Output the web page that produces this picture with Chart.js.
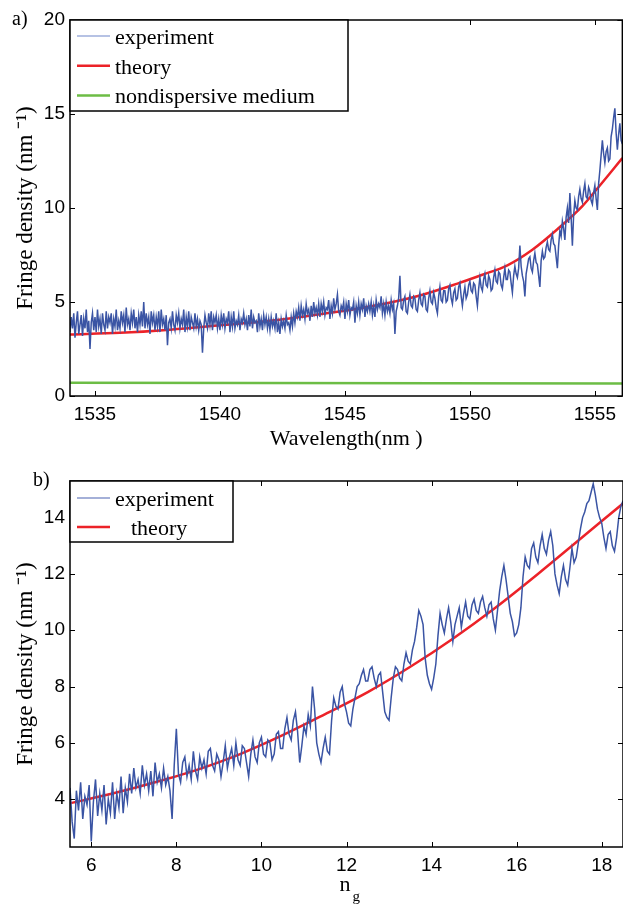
<!DOCTYPE html>
<html>
<head>
<meta charset="utf-8">
<script src="https://cdn.jsdelivr.net/npm/chart.js@4.4.0/dist/chart.umd.min.js"></script>
<style>
  body { margin: 0; background: #fff; width: 623px; height: 905px; overflow: hidden; position: relative; }
  canvas { position: absolute; left: 0; }
  .tag { position: absolute; font-family: 'Liberation Serif', serif; font-size: 20px; line-height: 23px; z-index: 2; }
</style>
</head>
<body>
<canvas id="chartA" width="623" height="455" style="top:0"></canvas>
<canvas id="chartB" width="623" height="450" style="top:455px"></canvas>
<div class="tag" style="left:12px;top:7px">a)</div>
<div class="tag" style="left:33px;top:468px">b)</div>
<script>
// panel a: fringe density vs wavelength, one row per nm, sampled every 0.05 nm from 1534 nm
const waveStart = 1534;
const waveStep = 0.05;
const expA = [
    3.4, 4.2, 3.6, 4.4, 3.1, 3.9, 4.5, 3.3, 3.8, 4.3, 3.2, 4.1, 3.6, 4.6, 3.4, 4.0, 2.5, 3.9, 4.4, 3.5,
    4.2, 3.4, 4.6, 3.7, 4.1, 3.3, 4.4, 3.8, 3.5, 4.5, 3.6, 4.2, 3.9, 4.4, 3.3, 4.1, 3.7, 4.6, 3.5, 4.0,
    3.6, 4.5, 3.9, 4.3, 3.4, 4.7, 3.8, 4.1, 3.5, 4.4, 3.9, 4.6, 3.6, 4.2, 3.4, 4.3, 3.8, 4.5, 3.7, 5.0,
    3.6, 4.4, 3.8, 4.2, 3.3, 4.5, 3.9, 4.3, 3.5, 4.2, 3.7, 4.5, 3.4, 4.6, 3.8, 4.1, 3.5, 4.3, 2.7, 3.9,
    4.1, 3.6, 4.5, 3.8, 3.5, 4.3, 3.9, 4.4, 3.6, 4.1, 3.8, 4.6, 3.4, 4.2, 3.7, 4.5, 3.5, 4.2, 3.9, 3.6,
    4.4, 3.7, 4.1, 3.5, 4.0, 3.8, 2.3, 3.6, 4.3, 3.9, 3.6, 4.4, 3.8, 4.5, 3.5, 4.2, 3.9, 4.3, 3.6, 4.1,
    3.5, 4.3, 3.8, 4.4, 3.6, 4.1, 3.9, 4.5, 3.4, 4.2, 3.7, 4.5, 3.6, 4.0, 3.8, 4.3, 3.5, 4.1, 3.9, 4.4,
    3.8, 4.1, 3.5, 4.3, 3.7, 4.6, 3.6, 4.2, 3.9, 4.0, 3.4, 4.4, 3.7, 4.1, 3.5, 4.3, 3.8, 4.2, 3.6, 4.1,
    3.5, 4.2, 3.7, 4.0, 3.6, 4.4, 3.4, 3.9, 3.3, 4.1, 3.7, 4.0, 3.6, 4.3, 3.8, 3.9, 3.5, 4.2, 3.7, 4.4,
    3.9, 4.5, 4.2, 4.7, 4.0, 4.8, 4.3, 4.6, 4.1, 4.9, 4.4, 4.6, 4.0, 4.8, 4.2, 5.0, 4.4, 4.7, 4.3, 4.9,
    4.2, 4.9, 4.5, 5.0, 4.3, 4.7, 4.6, 5.1, 4.1, 4.8, 4.4, 5.2, 4.6, 4.9, 5.4, 4.5, 4.3, 4.8, 4.6, 5.0,
    4.1, 4.9, 4.5, 5.1, 4.3, 4.7, 4.6, 5.0, 3.9, 4.8, 4.4, 5.0, 4.3, 4.9, 4.6, 5.2, 4.2, 4.8, 4.5, 4.9,
    4.5, 5.0, 4.3, 4.8, 4.2, 5.1, 4.6, 4.9, 4.7, 5.3, 4.4, 4.9, 4.3, 5.0, 4.5, 4.8, 4.4, 5.1, 4.6, 4.9,
    3.3, 4.5, 4.8, 5.2, 6.4, 4.7, 4.6, 5.1, 5.3, 4.5, 4.4, 5.0, 5.4, 4.8, 4.7, 5.3, 5.2, 4.6, 4.5, 5.1,
    5.5, 4.9, 4.8, 5.4, 5.3, 4.6, 4.5, 5.2, 5.6, 5.0, 4.9, 5.5, 5.2, 4.7, 4.4, 5.3, 5.8, 5.1, 5.0, 5.6,
    5.6, 5.0, 5.1, 5.7, 5.9, 5.2, 4.9, 5.5, 5.7, 5.1, 5.2, 5.8, 6.0, 5.3, 4.8, 5.4, 5.8, 5.2, 5.4, 5.9,
    6.1, 5.6, 5.5, 6.0, 5.9, 5.3, 4.8, 5.7, 6.3, 5.8, 5.6, 6.2, 6.5, 5.9, 5.8, 6.4, 6.2, 5.6, 5.7, 6.3,
    6.7, 6.1, 6.0, 6.6, 6.5, 5.9, 5.7, 6.3, 6.8, 6.2, 6.2, 6.7, 6.6, 6.0, 5.5, 6.4, 6.9, 6.5, 6.3, 6.8,
    8.0, 6.9, 6.4, 6.1, 5.3, 6.5, 6.9, 7.3, 7.4, 6.8, 6.6, 7.2, 7.6, 7.1, 7.0, 6.4, 5.8, 7.2, 7.7, 7.3,
    7.4, 7.9, 8.2, 7.8, 7.7, 8.3, 8.6, 8.1, 8.0, 7.4, 6.8, 8.0, 8.8, 8.5, 9.3, 8.9, 8.3, 9.5, 10.0, 9.2,
    10.8, 9.5, 8.0, 9.6, 10.4, 10.0, 9.9, 10.6, 11.0, 10.5, 10.3, 10.9, 11.3, 10.6, 10.5, 11.1, 10.9, 10.4, 10.2, 10.8,
    11.2, 10.5, 9.9, 11.3, 12.0, 12.8, 13.6, 12.9, 12.4, 13.0, 13.2, 12.5, 12.6, 13.8, 14.2, 14.8, 15.3, 14.0, 13.1, 13.9,
    14.5, 13.6, 13.4
];
const theoryAx = [1534, 1536, 1538, 1540, 1542, 1544, 1546, 1548, 1549.5, 1550.5, 1551.5, 1552.5, 1553.5, 1554.5, 1555.2, 1556.1];
const theoryAy = [3.27, 3.36, 3.53, 3.76, 4.0, 4.35, 4.76, 5.35, 5.98, 6.45, 6.95, 7.78, 8.87, 10.1, 11.2, 12.66];
const mediumAx = [1534, 1556.1];
const mediumAy = [0.7, 0.67];
const waveTicks = [1535, 1540, 1545, 1550, 1555];
const densityTicksA = [0, 5, 10, 15, 20];

// panel b: fringe density vs group index, one row per unit, sampled every 0.05 from 5.5
const ngStart = 5.5;
const ngStep = 0.05;
const expB = [
    4.4, 3.2, 2.6, 4.3, 3.6, 4.6, 3.3, 4.1, 3.8, 4.5, 2.5, 3.9, 4.7, 3.4, 4.2, 3.6, 4.5, 3.1, 4.0, 3.5,
    4.6, 3.3, 4.2, 3.7, 4.8, 3.5, 4.4, 3.9, 4.9, 4.2, 5.1, 4.4, 4.7, 4.2, 5.2, 4.5, 4.9, 4.3, 5.0, 4.1,
    5.3, 4.6, 4.9, 4.4, 5.1, 4.5, 4.8, 4.3, 3.3, 5.2, 6.5, 4.9, 4.6, 5.3, 5.5, 4.8, 5.2, 4.7, 5.7, 5.0,
    4.7, 5.5, 5.1, 5.4, 4.9, 5.7, 5.8, 5.2, 5.0, 5.6, 5.4, 4.8, 5.3, 5.9, 5.1, 5.5, 5.8, 5.2, 6.0, 5.4,
    5.2, 5.9, 5.8, 5.3, 4.8, 5.6, 6.1, 5.5, 5.3, 6.0, 6.2, 5.6, 5.5, 6.1, 6.0, 5.4, 5.6, 6.3, 6.4, 5.8,
    5.8, 6.5, 6.9, 6.3, 6.1, 6.8, 7.1, 6.4, 5.3, 5.9, 6.6, 6.3, 7.0, 6.6, 8.0, 7.2, 6.0, 5.6, 5.3, 5.8,
    6.2, 5.7, 5.6, 6.8, 7.6, 7.3, 7.2, 7.8, 8.0, 7.4, 7.1, 6.7, 6.6, 7.2, 7.6, 8.0, 8.1, 8.4, 8.6, 8.2,
    8.2, 8.6, 8.7, 8.3, 8.0, 8.4, 8.5, 7.8, 7.1, 6.9, 6.8, 7.6, 8.3, 8.7, 8.6, 8.3, 8.2, 8.8, 9.2, 8.9,
    8.8, 9.3, 9.6, 10.1, 10.7, 10.5, 10.2, 9.0, 8.4, 8.1, 7.9, 8.3, 8.8, 9.8, 10.6, 10.2, 9.9, 10.4, 10.8, 10.3,
    9.6, 10.2, 10.5, 10.8, 10.1, 10.6, 11.0, 10.5, 10.4, 10.9, 11.1, 10.7, 10.6, 11.0, 11.2, 10.8, 10.5, 10.9, 11.0, 10.4,
    10.0, 10.7, 11.4, 11.9, 12.3, 11.8, 11.2, 10.6, 10.3, 9.8, 9.9, 10.2, 10.8, 11.9, 12.6, 12.3, 12.2, 12.9, 13.1, 12.6,
    12.4, 13.0, 13.4, 12.9, 12.7, 13.2, 13.5, 13.0, 12.0, 11.6, 11.3, 11.9, 12.3, 11.8, 11.6, 12.2, 12.9, 12.4, 12.6, 13.1,
    13.6, 14.0, 14.2, 14.5, 14.6, 14.9, 15.2, 14.8, 14.3, 14.0, 13.8, 13.3, 12.9, 13.4, 13.5, 13.0, 12.8, 13.3, 14.0, 14.4,
    14.6
];
const theoryBx = [5.5, 6.5, 7.5, 8.5, 9.5, 10.5, 11.5, 12.5, 13.5, 14.5, 15.5, 16.5, 17.5, 18.5];
const theoryBy = [3.85, 4.2, 4.6, 5.05, 5.6, 6.27, 7.02, 7.8, 8.7, 9.7, 10.8, 12.0, 13.25, 14.5];
const ngTicks = [6, 8, 10, 12, 14, 16, 18];
const densityTicksB = [4, 6, 8, 10, 12, 14];

const blue = '#3a54a4';
const red = '#ec2228';
const green = '#6cbd45';

function sampled(start, step, values) {
    return values.map((v, i) => ({ x: +(start + i * step).toFixed(3), y: v }));
}
function paired(xs, ys) {
    return xs.map((x, i) => ({ x: x, y: ys[i] }));
}
function fixedTicks(list) {
    return function (scale) { scale.ticks = list.map(v => ({ value: v })); };
}

Chart.defaults.font.family = "'Liberation Sans', Arial, sans-serif";
Chart.defaults.color = '#000';

// MATLAB style box with inward tick marks on all four sides
const matlabFrame = {
    id: 'matlabFrame',
    afterDatasetsDraw(chart) {
        const { ctx, chartArea: a, scales } = chart;
        ctx.save();
        ctx.strokeStyle = '#000';
        ctx.lineWidth = 1.5;
        ctx.strokeRect(a.left, a.top, a.right - a.left, a.bottom - a.top);
        ctx.lineWidth = 1;
        ctx.beginPath();
        scales.x.ticks.forEach(t => {
            const px = Math.round(scales.x.getPixelForValue(t.value)) + 0.5;
            ctx.moveTo(px, a.bottom); ctx.lineTo(px, a.bottom - 5);
            ctx.moveTo(px, a.top); ctx.lineTo(px, a.top + 5);
        });
        scales.y.ticks.forEach(t => {
            const py = Math.round(scales.y.getPixelForValue(t.value)) + 0.5;
            ctx.moveTo(a.left, py); ctx.lineTo(a.left + 5, py);
            ctx.moveTo(a.right, py); ctx.lineTo(a.right - 5, py);
        });
        ctx.stroke();
        ctx.restore();
    }
};

// boxed legend in the upper left corner
const boxLegend = {
    id: 'boxLegend',
    afterDraw(chart, args, opts) {
        const ctx = chart.ctx;
        ctx.save();
        ctx.fillStyle = '#fff';
        ctx.fillRect(opts.left, opts.top, opts.width, opts.height);
        ctx.strokeStyle = '#000';
        ctx.lineWidth = 1.5;
        ctx.strokeRect(opts.left, opts.top, opts.width, opts.height);
        ctx.font = "22px 'Liberation Serif', serif";
        ctx.textBaseline = 'middle';
        ctx.fillStyle = '#000';
        chart.data.datasets.forEach((ds, i) => {
            const y = opts.rowTop + i * opts.rowGap;
            ctx.strokeStyle = opts.sampleColors[i];
            ctx.lineWidth = opts.sampleWidths[i];
            ctx.beginPath();
            ctx.moveTo(opts.sampleX[0], y);
            ctx.lineTo(opts.sampleX[1], y);
            ctx.stroke();
            ctx.fillText(ds.label, opts.textX[i], y + 2);
        });
        ctx.restore();
    }
};

// x title n with subscript g
const subscriptTitle = {
    id: 'subscriptTitle',
    afterDraw(chart, args, opts) {
        if (!opts.main) return;
        const ctx = chart.ctx;
        const a = chart.chartArea;
        const cx = (a.left + a.right) / 2;
        ctx.save();
        ctx.fillStyle = '#000';
        ctx.textBaseline = 'alphabetic';
        ctx.font = "22px 'Liberation Serif', serif";
        ctx.textAlign = 'right';
        ctx.fillText(opts.main, cx + 4, opts.baseline);
        ctx.textAlign = 'left';
        ctx.font = "15px 'Liberation Serif', serif";
        ctx.fillText(opts.sub, cx + 6, opts.baseline + 10);
        ctx.restore();
    }
};

const tickFont = { size: 19 };
const titleFont = { family: "'Liberation Serif', serif", size: 22 };
const yTitleFont = { family: "'Liberation Serif', serif", size: 23 };
const plainNumber = v => String(v);

new Chart(document.getElementById('chartA'), {
    type: 'line',
    data: {
        datasets: [{
            label: 'experiment',
            data: sampled(waveStart, waveStep, expA),
            borderColor: blue,
            borderWidth: 1.5,
            pointRadius: 0
        }, {
            label: 'theory',
            data: paired(theoryAx, theoryAy),
            borderColor: red,
            borderWidth: 2.5,
            pointRadius: 0,
            cubicInterpolationMode: 'monotone'
        }, {
            label: 'nondispersive medium',
            data: paired(mediumAx, mediumAy),
            borderColor: green,
            borderWidth: 2.5,
            pointRadius: 0
        }]
    },
    options: {
        responsive: false,
        animation: false,
        events: [],
        layout: { padding: { top: 20, left: 0, right: 0, bottom: 0 } },
        scales: {
            x: {
                type: 'linear',
                min: 1534,
                max: 1556.1,
                afterBuildTicks: fixedTicks(waveTicks),
                afterFit: s => { s.height = 59; },
                grid: { display: false, drawTicks: false },
                border: { display: false },
                ticks: { font: tickFont, padding: 7, maxRotation: 0, autoSkip: false, callback: plainNumber },
                title: { display: true, text: 'Wavelength(nm )', font: titleFont, padding: { top: 0, bottom: 3 } }
            },
            y: {
                min: 0,
                max: 20,
                afterBuildTicks: fixedTicks(densityTicksA),
                afterFit: s => { s.width = 70; },
                grid: { display: false, drawTicks: false },
                border: { display: false },
                ticks: { font: tickFont, padding: 5, autoSkip: false, callback: plainNumber },
                title: { display: true, text: 'Fringe density (nm \u207B\u00B9)', font: yTitleFont, padding: { top: 12, bottom: 0 } }
            }
        },
        plugins: {
            legend: { display: false },
            tooltip: { enabled: false },
            boxLegend: {
                left: 70, top: 20, width: 278, height: 91,
                rowTop: 36, rowGap: 29.8,
                sampleX: [77, 110],
                sampleColors: ['#6f86c9', red, green],
                sampleWidths: [1.2, 2.5, 2.5],
                textX: [115, 115, 115]
            },
            subscriptTitle: {}
        }
    },
    plugins: [matlabFrame, boxLegend, subscriptTitle]
});

new Chart(document.getElementById('chartB'), {
    type: 'line',
    data: {
        datasets: [{
            label: 'experiment',
            data: sampled(ngStart, ngStep, expB),
            borderColor: blue,
            borderWidth: 1.5,
            pointRadius: 0
        }, {
            label: 'theory',
            data: paired(theoryBx, theoryBy),
            borderColor: red,
            borderWidth: 2.5,
            pointRadius: 0,
            cubicInterpolationMode: 'monotone'
        }]
    },
    options: {
        responsive: false,
        animation: false,
        events: [],
        layout: { padding: { top: 26, left: 0, right: 0, bottom: 0 } },
        scales: {
            x: {
                type: 'linear',
                min: 5.5,
                max: 18.5,
                afterBuildTicks: fixedTicks(ngTicks),
                afterFit: s => { s.height = 58; },
                grid: { display: false, drawTicks: false },
                border: { display: false },
                ticks: { font: tickFont, padding: 7, maxRotation: 0, autoSkip: false, callback: plainNumber },
                title: { display: false }
            },
            y: {
                min: 2.3,
                max: 15.3,
                afterBuildTicks: fixedTicks(densityTicksB),
                afterFit: s => { s.width = 70; },
                grid: { display: false, drawTicks: false },
                border: { display: false },
                ticks: { font: tickFont, padding: 5, autoSkip: false, callback: plainNumber },
                title: { display: true, text: 'Fringe density (nm \u207B\u00B9)', font: yTitleFont, padding: { top: 12, bottom: 0 } }
            }
        },
        plugins: {
            legend: { display: false },
            tooltip: { enabled: false },
            boxLegend: {
                left: 70, top: 26, width: 163, height: 61,
                rowTop: 43, rowGap: 29,
                sampleX: [77, 110],
                sampleColors: ['#4a63b2', red],
                sampleWidths: [1.2, 2.5],
                textX: [115, 131]
            },
            subscriptTitle: { main: 'n', sub: 'g', baseline: 436 }
        }
    },
    plugins: [matlabFrame, boxLegend, subscriptTitle]
});
</script>
</body>
</html>
